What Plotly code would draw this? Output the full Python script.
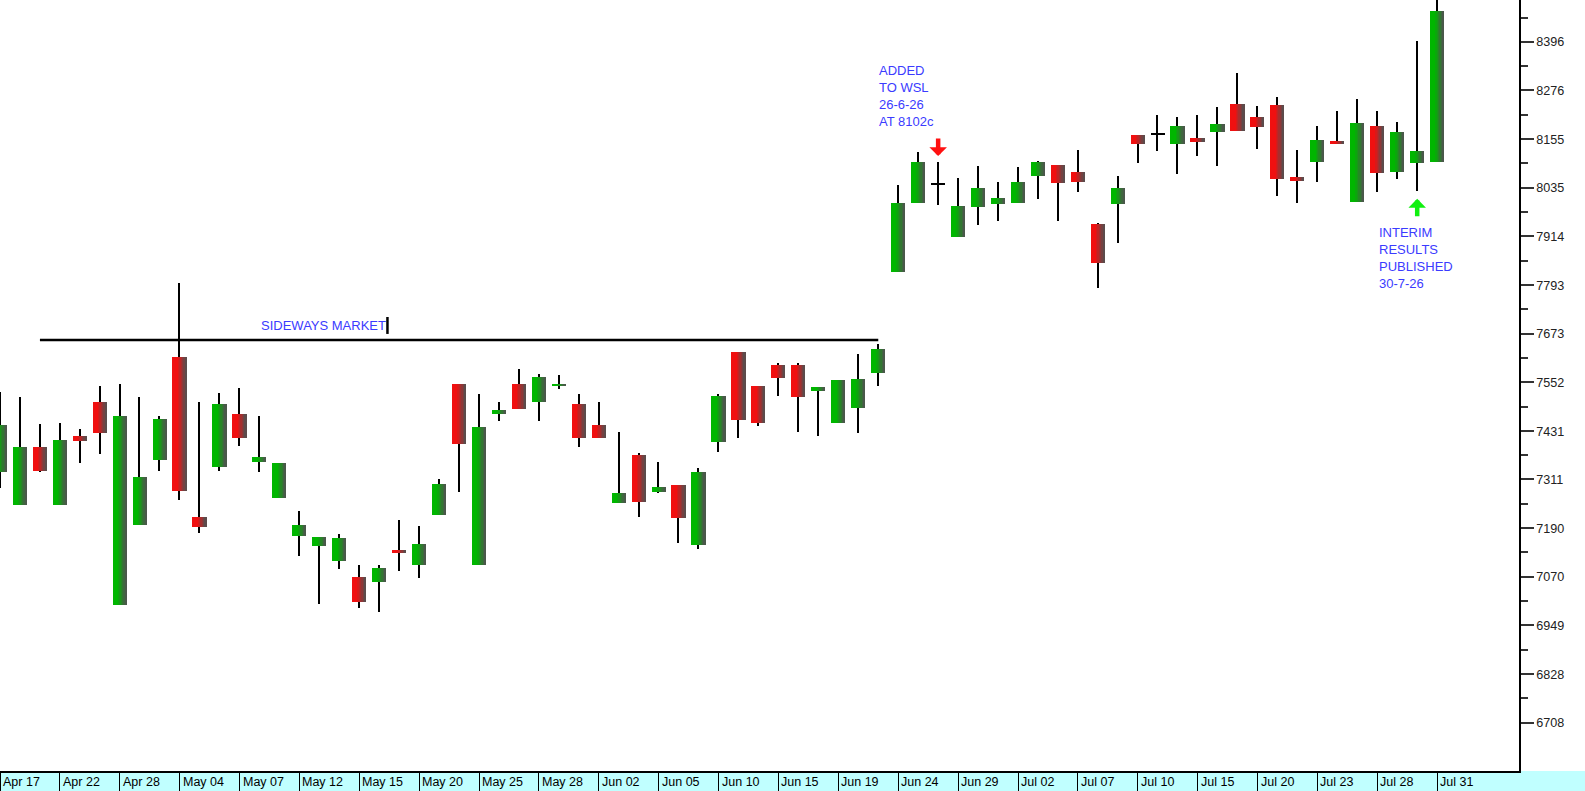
import plotly.graph_objects as go

# trading days (JSE) shown on the chart
dates = ["Apr 17", "Apr 20", "Apr 21", "Apr 22", "Apr 23", "Apr 24", "Apr 28", "Apr 29", "Apr 30",
         "May 04", "May 05", "May 06", "May 07", "May 08", "May 11", "May 12", "May 13", "May 14",
         "May 15", "May 18", "May 19", "May 20", "May 21", "May 22", "May 25", "May 26", "May 27",
         "May 28", "May 29", "Jun 01", "Jun 02", "Jun 03", "Jun 04", "Jun 05", "Jun 08", "Jun 09",
         "Jun 10", "Jun 11", "Jun 12", "Jun 15", "Jun 17", "Jun 18", "Jun 19", "Jun 22", "Jun 23",
         "Jun 24", "Jun 25", "Jun 26", "Jun 29", "Jun 30", "Jul 01", "Jul 02", "Jul 03", "Jul 06",
         "Jul 07", "Jul 08", "Jul 09", "Jul 10", "Jul 13", "Jul 14", "Jul 15", "Jul 16", "Jul 17",
         "Jul 20", "Jul 21", "Jul 22", "Jul 23", "Jul 24", "Jul 27", "Jul 28", "Jul 29", "Jul 30",
         "Jul 31"]

opens = [7330, 7248, 7392, 7248, 7419, 7502, 7000, 7198, 7359, 7616, 7219, 7341, 7474, 7354, 7264,
         7172, 7147, 7110, 7068, 7056, 7136, 7099, 7223, 7548, 7099, 7473, 7548, 7503, 7543, 7498,
         7446, 7252, 7372, 7279, 7297, 7149, 7403, 7626, 7544, 7595, 7595, 7531, 7450, 7488, 7574,
         7825, 7996, 8044, 7912, 7986, 7994, 7996, 8064, 8091, 8073, 7944, 7994, 8165, 8168, 8142,
         8157, 8172, 8242, 8209, 8240, 8060, 8098, 8150, 7998, 8188, 8073, 8095, 8098]
highs = [7529, 7516, 7449, 7452, 7436, 7542, 7549, 7515, 7469, 7799, 7502, 7526, 7539, 7469, 7353,
         7232, 7169, 7176, 7099, 7099, 7211, 7196, 7312, 7548, 7523, 7504, 7585, 7573, 7570, 7523,
         7504, 7430, 7376, 7355, 7297, 7340, 7524, 7626, 7544, 7599, 7599, 7541, 7557, 7622, 7647,
         8041, 8122, 8098, 8058, 8089, 8048, 8085, 8101, 8091, 8128, 7946, 8064, 8165, 8215, 8211,
         8215, 8234, 8318, 8237, 8260, 8128, 8188, 8225, 8255, 8225, 8197, 8398, 8520]
lows = [7289, 7248, 7330, 7248, 7351, 7374, 7000, 7198, 7332, 7260, 7178, 7332, 7394, 7329, 7264,
        7122, 7002, 7088, 6992, 6982, 7084, 7066, 7223, 7279, 7099, 7456, 7485, 7456, 7535, 7391,
        7413, 7252, 7217, 7277, 7153, 7138, 7379, 7413, 7444, 7518, 7428, 7419, 7450, 7426, 7543,
        7825, 7996, 7992, 7912, 7941, 7952, 7996, 8006, 7952, 8023, 7785, 7897, 8095, 8126, 8068,
        8114, 8089, 8176, 8130, 8014, 7996, 8048, 8142, 7998, 8023, 8056, 8027, 8098]
closes = [7446, 7392, 7332, 7409, 7407, 7426, 7469, 7318, 7461, 7283, 7193, 7498, 7413, 7368, 7353,
          7197, 7169, 7167, 7007, 7092, 7128, 7151, 7300, 7398, 7442, 7483, 7485, 7566, 7549, 7413,
          7413, 7278, 7255, 7293, 7215, 7330, 7519, 7459, 7450, 7562, 7516, 7541, 7557, 7560, 7635,
          7996, 8098, 8044, 7989, 8033, 8008, 8048, 8098, 8046, 8048, 7847, 8033, 8142, 8168, 8188,
          8149, 8193, 8176, 8186, 8056, 8052, 8153, 8142, 8196, 8070, 8172, 8126, 8473]

y_ticks = [6708, 6828, 6949, 7070, 7190, 7311, 7431, 7552, 7673, 7793, 7914, 8035, 8155, 8276, 8396]

sideways_level = 7657
sideways_start, sideways_end = 2, 44
added_idx, added_tip = 47, 8113
results_idx, results_tip = 71, 8007

n = len(dates)
xs = list(range(n))
label_idx = list(range(0, n, 3))
label_txt = [dates[i] for i in label_idx]

font = "Arial, Liberation Sans, sans-serif"
blue = "#3b3bff"


def mix(c1, c2, t):
    return "rgb(%d,%d,%d)" % tuple(round(a + (b - a) * t) for a, b in zip(c1, c2))


RED = (240, 16, 16)
GREEN = (0, 182, 0)
GREY = (80, 80, 80)

fig = go.Figure()

# wicks
fig.add_trace(go.Bar(x=xs, y=[h - l for h, l in zip(highs, lows)], base=lows,
                     width=0.075, marker=dict(color="black", line=dict(width=0)),
                     hoverinfo="skip", showlegend=False))

# bodies, drawn as thin slices to get the colour fade
body_w = 0.67
slices = 10
bases, heights, kinds = [], [], []
for o, c in zip(opens, closes):
    lo, hi = min(o, c), max(o, c)
    if hi - lo < 3:
        mid = (hi + lo) / 2
        lo, hi = mid - 1.5, mid + 1.5
    bases.append(lo)
    heights.append(hi - lo)
    kinds.append("up" if c > o else "down" if c < o else "flat")

sw = body_w / slices
for k in range(slices):
    t = max(0.0, ((k + 0.5) / slices - 0.35) / 0.65)
    cols = []
    for kind in kinds:
        if kind == "up":
            cols.append(mix(GREEN, GREY, t))
        elif kind == "down":
            cols.append(mix(RED, GREY, t))
        else:
            cols.append("black")
    fig.add_trace(go.Bar(x=xs, y=heights, base=bases, width=sw * 1.2,
                         offset=-body_w / 2 + k * sw,
                         marker=dict(color=cols, line=dict(width=0)),
                         hoverinfo="skip", showlegend=False))

# sideways market line
fig.add_trace(go.Scatter(x=[sideways_start, sideways_end], y=[sideways_level, sideways_level],
                         mode="lines", line=dict(color="black", width=2.5),
                         hoverinfo="skip", showlegend=False))

annotations = [
    dict(x=12.95, y=7694, xref="x", yref="y", text="SIDEWAYS MARKET", showarrow=False,
         xanchor="left", yanchor="middle", font=dict(family=font, size=13, color=blue)),
    dict(x=43.96, y=8350, xref="x", yref="y", text="ADDED<br>TO WSL<br>26-6-26<br>AT 8102c",
         showarrow=False, xanchor="left", yanchor="top", align="left",
         font=dict(family=font, size=13, color=blue)),
    dict(x=69.0, y=7946, xref="x", yref="y", text="INTERIM<br>RESULTS<br>PUBLISHED<br>30-7-26",
         showarrow=False, xanchor="left", yanchor="top", align="left",
         font=dict(family=font, size=13, color=blue)),
    dict(x=added_idx, y=added_tip, xref="x", yref="y", ax=0, ay=-19, text="",
         showarrow=True, arrowhead=1, arrowsize=0.65, arrowwidth=4.5, arrowcolor="#ff1010"),
    dict(x=results_idx, y=results_tip, xref="x", yref="y", ax=0, ay=19, text="",
         showarrow=True, arrowhead=1, arrowsize=0.65, arrowwidth=4.5, arrowcolor="#10f010"),
]

# date labels in the strip, just right of each separator
for i, txt in zip(label_idx, label_txt):
    annotations.append(dict(x=i, y=-11 / 771, xref="x", yref="paper", text=txt,
                            showarrow=False, xanchor="left", yanchor="middle", xshift=1,
                            font=dict(family=font, size=12.5, color="black")))

shapes = [
    # date strip below the plot
    dict(type="rect", xref="paper", yref="paper", x0=0, x1=1.05, y0=-20 / 771, y1=0,
         fillcolor="#c0ffff", line=dict(width=0), layer="below"),
    # cursor mark after the label
    dict(type="line", xref="x", yref="y", x0=19.41, x1=19.41, y0=7672, y1=7714,
         line=dict(color="black", width=2.5)),
]

fig.update_layout(
    width=1585, height=791,
    margin=dict(l=0, r=66, t=0, b=20, autoexpand=False),
    paper_bgcolor="white", plot_bgcolor="white",
    barmode="overlay", bargap=0,
    showlegend=False,
    annotations=annotations,
    shapes=shapes,
    xaxis=dict(range=[-0.001, 76.1], showgrid=False, zeroline=False, automargin=False,
               showline=True, linecolor="black", linewidth=2,
               tickmode="array", tickvals=label_idx, showticklabels=False,
               ticks="outside", ticklen=20, tickcolor="black", tickwidth=1),
    yaxis=dict(range=[6588, 8500.2], side="right", showgrid=False, zeroline=False,
               automargin=False,
               showline=True, linecolor="black", linewidth=1.5,
               tickmode="array", tickvals=y_ticks, ticktext=[str(v) for v in y_ticks],
               ticks="outside", ticklen=13, tickcolor="#333", tickwidth=1.5,
               tickfont=dict(family=font, size=12.6, color="#222"),
               minor=dict(tickvals=[(a + b) / 2 for a, b in zip(y_ticks[:-1], y_ticks[1:])]
                          + [y_ticks[-1] + 60.3],
                          ticks="outside", ticklen=7, tickcolor="#333", tickwidth=1.5)),
)

# drop the page's default body margin so the figure sits at the window corner
fig.write_html("out.html", config={"displayModeBar": False},
               post_script="document.body.style.margin='0';")
